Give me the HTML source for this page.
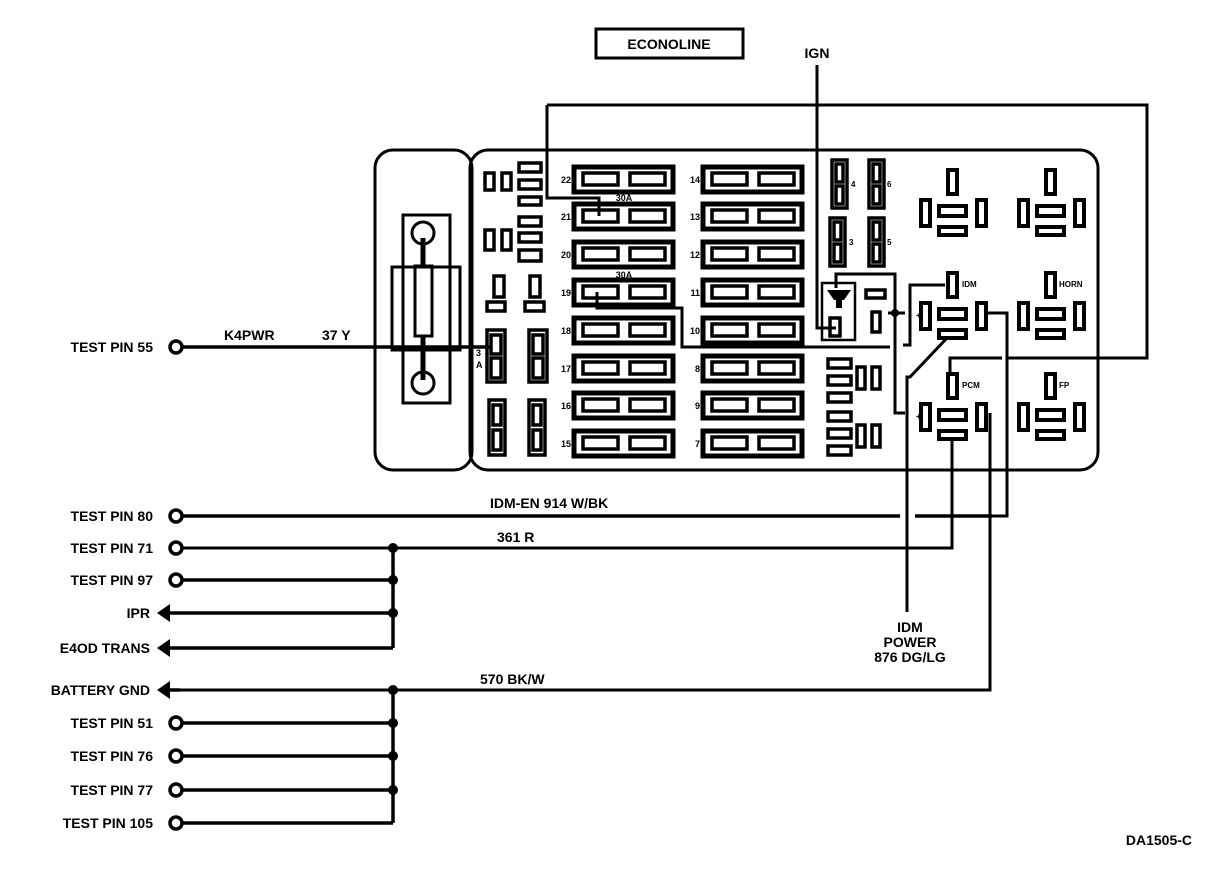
<!DOCTYPE html>
<html><head><meta charset="utf-8"><style>
html,body{margin:0;padding:0;background:#fff}
svg{display:block}
text{font-family:"Liberation Sans",sans-serif;font-weight:bold;fill:#000}
</style></head><body>
<svg width="1216" height="872" viewBox="0 0 1216 872" xmlns="http://www.w3.org/2000/svg">
<defs>
<g id="fuse">
 <rect x="0" y="-12" width="99" height="25" fill="none" stroke="#000" stroke-width="5"/>
 <rect x="9" y="-6" width="35" height="12" fill="none" stroke="#000" stroke-width="3.5"/>
 <rect x="56" y="-6" width="35" height="12" fill="none" stroke="#000" stroke-width="3.5"/>
</g>
<g id="relay">
 <rect x="-4" y="-42" width="9" height="24" fill="none" stroke="#000" stroke-width="4"/>
 <rect x="-31" y="-12" width="9" height="26" fill="none" stroke="#000" stroke-width="4"/>
 <rect x="25" y="-12" width="9" height="26" fill="none" stroke="#000" stroke-width="4"/>
 <rect x="-13" y="-6" width="27" height="10" fill="none" stroke="#000" stroke-width="4"/>
 <rect x="-13" y="15" width="27" height="8" fill="none" stroke="#000" stroke-width="4"/>
</g>
</defs>

<rect x="596" y="29" width="147" height="29" fill="none" stroke="#000" stroke-width="3"/>
<text x="669" y="49" font-size="14" text-anchor="middle">ECONOLINE</text>
<text x="817" y="58" font-size="14" text-anchor="middle">IGN</text>

<rect x="375" y="150" width="97" height="320" rx="18" fill="none" stroke="#000" stroke-width="3"/>
<rect x="470" y="150" width="628" height="320" rx="18" fill="none" stroke="#000" stroke-width="3"/>

<g fill="none" stroke="#000" stroke-width="3">
 <rect x="403" y="215" width="47" height="188"/>
 <rect x="392" y="267" width="68" height="83"/>
 <circle cx="423" cy="233" r="11"/>
 <circle cx="423" cy="383" r="11"/>
 <rect x="415" y="266" width="17" height="70"/>
 <line x1="423" y1="238" x2="423" y2="266" stroke-width="5"/>
 <line x1="423" y1="336" x2="423" y2="380" stroke-width="5"/>
</g>

<g fill="none" stroke="#000" stroke-width="3.5">
 <rect x="485" y="173" width="9" height="17"/><rect x="502" y="173" width="9" height="17"/>
 <rect x="519" y="163" width="22" height="9"/><rect x="519" y="180" width="22" height="9"/><rect x="519" y="197" width="22" height="8"/>
 <rect x="485" y="230" width="9" height="20"/><rect x="502" y="230" width="9" height="20"/>
 <rect x="519" y="217" width="22" height="9"/><rect x="519" y="233" width="22" height="9"/><rect x="519" y="250" width="22" height="11"/>
 <rect x="494" y="276" width="10" height="21"/><rect x="530" y="276" width="10" height="21"/>
 <rect x="487" y="302" width="18" height="9"/><rect x="525" y="302" width="19" height="9"/>
 <rect x="487" y="330" width="18" height="52"/><rect x="491" y="335" width="10" height="19"/><rect x="491" y="358" width="10" height="20"/>
 <rect x="529" y="330" width="18" height="52"/><rect x="533" y="335" width="10" height="19"/><rect x="533" y="358" width="10" height="20"/>
 <rect x="489" y="400" width="16" height="55"/><rect x="493" y="405" width="8" height="20"/><rect x="493" y="430" width="8" height="20"/>
 <rect x="529" y="400" width="16" height="55"/><rect x="533" y="405" width="8" height="20"/><rect x="533" y="430" width="8" height="20"/>
</g>
<text x="476" y="356" font-size="9">3</text><text x="476" y="368" font-size="9">A</text>

<g>
 <use href="#fuse" x="574" y="179"/><use href="#fuse" x="574" y="216"/><use href="#fuse" x="574" y="254"/><use href="#fuse" x="574" y="292"/>
 <use href="#fuse" x="574" y="330"/><use href="#fuse" x="574" y="368"/><use href="#fuse" x="574" y="405"/><use href="#fuse" x="574" y="443"/>
 <use href="#fuse" x="703" y="179"/><use href="#fuse" x="703" y="216"/><use href="#fuse" x="703" y="254"/><use href="#fuse" x="703" y="292"/>
 <use href="#fuse" x="703" y="330"/><use href="#fuse" x="703" y="368"/><use href="#fuse" x="703" y="405"/><use href="#fuse" x="703" y="443"/>
</g>
<g font-size="9" text-anchor="end">
 <text x="571" y="183">22</text><text x="571" y="220">21</text><text x="571" y="258">20</text><text x="571" y="296">19</text>
 <text x="571" y="334">18</text><text x="571" y="372">17</text><text x="571" y="409">16</text><text x="571" y="447">15</text>
 <text x="700" y="183">14</text><text x="700" y="220">13</text><text x="700" y="258">12</text><text x="700" y="296">11</text>
 <text x="700" y="334">10</text><text x="700" y="372">8</text><text x="700" y="409">9</text><text x="700" y="447">7</text>
</g>
<text x="624" y="201" font-size="9" text-anchor="middle">30A</text>
<text x="624" y="278" font-size="9" text-anchor="middle">30A</text>

<g fill="none" stroke="#000" stroke-width="3.5">
 <rect x="832" y="160" width="15" height="48"/><rect x="836" y="164" width="7" height="18"/><rect x="836" y="186" width="7" height="18"/>
 <rect x="869" y="160" width="15" height="48"/><rect x="873" y="164" width="7" height="18"/><rect x="873" y="186" width="7" height="18"/>
 <rect x="830" y="218" width="15" height="48"/><rect x="834" y="222" width="7" height="18"/><rect x="834" y="244" width="7" height="18"/>
 <rect x="869" y="218" width="15" height="48"/><rect x="873" y="222" width="7" height="18"/><rect x="873" y="244" width="7" height="18"/>
 <rect x="822" y="283" width="33" height="57" stroke-width="2.5"/>
 <rect x="866" y="290" width="19" height="8"/><rect x="872" y="312" width="8" height="20"/>
 <rect x="830" y="318" width="10" height="18"/>
 <rect x="828" y="359" width="23" height="9"/><rect x="828" y="376" width="23" height="9"/><rect x="828" y="393" width="23" height="9"/>
 <rect x="828" y="412" width="23" height="9"/><rect x="828" y="429" width="23" height="9"/><rect x="828" y="446" width="23" height="9"/>
 <rect x="857" y="367" width="8" height="22"/><rect x="872" y="367" width="8" height="22"/>
 <rect x="857" y="425" width="8" height="22"/><rect x="872" y="425" width="8" height="22"/>
</g>
<g font-size="8"><text x="851" y="187">4</text><text x="887" y="187">6</text><text x="849" y="245">3</text><text x="887" y="245">5</text></g>
<polygon points="827,290 851,290 844,300 834,300" fill="#000"/>
<rect x="836" y="300" width="6" height="8" fill="#000"/>

<use href="#relay" x="952" y="212"/><use href="#relay" x="1050" y="212"/>
<use href="#relay" x="952" y="315"/><use href="#relay" x="1050" y="315"/>
<use href="#relay" x="952" y="416"/><use href="#relay" x="1050" y="416"/>
<g font-size="8"><text x="962" y="287">IDM</text><text x="1059" y="287">HORN</text><text x="962" y="388">PCM</text><text x="1059" y="388">FP</text>
<text x="916" y="318">+</text><text x="916" y="419">+</text></g>

<g fill="none" stroke="#000" stroke-width="3">
 <polyline points="547,105 547,198 599,198 599,216"/>
 <polyline points="547,105 1147,105 1147,358 1008,358"/>
 <polyline points="1002,358 950,358 950,374"/>
 <polyline points="817,65 817,328 836,328"/>
 <polyline points="597,292 597,308 682,308 682,347 890,347"/>
 <polyline points="836,288 836,274 895,274 895,413 905,413"/>
 <polyline points="945,285 910,285 910,345 903,345"/>
 <polyline points="888,313 905,313"/>
 <polyline points="985,313 1007,313 1007,516 990,516"/>
 <polyline points="947,338 910,377 907,377 907,612"/>
 <polyline points="952,437 952,548 180,548"/>
 <polyline points="990,413 990,690 180,690"/>
</g>
<circle cx="895" cy="313" r="4" fill="#000"/>

<g stroke="#000" stroke-width="3.5" fill="none">
 <line x1="180" y1="347" x2="490" y2="347"/>
 <line x1="180" y1="516" x2="900" y2="516"/>
 <line x1="915" y1="516" x2="992" y2="516"/>
 <line x1="180" y1="580" x2="393" y2="580"/>
 <line x1="160" y1="613" x2="393" y2="613"/>
 <line x1="160" y1="648" x2="393" y2="648"/>
 <line x1="180" y1="723" x2="393" y2="723"/>
 <line x1="180" y1="756" x2="393" y2="756"/>
 <line x1="180" y1="790" x2="393" y2="790"/>
 <line x1="180" y1="823" x2="393" y2="823"/>
 <line x1="160" y1="690" x2="180" y2="690"/>
 <polyline points="393,548 393,648"/>
 <polyline points="393,690 393,823"/>
</g>
<g fill="#000">
 <circle cx="393" cy="548" r="5"/><circle cx="393" cy="580" r="5"/><circle cx="393" cy="613" r="5"/>
 <circle cx="393" cy="690" r="5"/><circle cx="393" cy="723" r="5"/><circle cx="393" cy="756" r="5"/><circle cx="393" cy="790" r="5"/>
 <polygon points="157,613 170,604 170,622"/>
 <polygon points="157,648 170,639 170,657"/>
 <polygon points="157,690 170,681 170,699"/>
</g>
<g fill="#fff" stroke="#000" stroke-width="3.5">
 <circle cx="176" cy="347" r="6"/>
 <circle cx="176" cy="516" r="6"/><circle cx="176" cy="548" r="6"/><circle cx="176" cy="580" r="6"/>
 <circle cx="176" cy="723" r="6"/><circle cx="176" cy="756" r="6"/><circle cx="176" cy="790" r="6"/><circle cx="176" cy="823" r="6"/>
</g>

<g font-size="14" text-anchor="end">
 <text x="153" y="352">TEST PIN 55</text>
 <text x="153" y="521">TEST PIN 80</text>
 <text x="153" y="553">TEST PIN 71</text>
 <text x="153" y="585">TEST PIN 97</text>
 <text x="150" y="618">IPR</text>
 <text x="150" y="653">E4OD TRANS</text>
 <text x="150" y="695">BATTERY GND</text>
 <text x="153" y="728">TEST PIN 51</text>
 <text x="153" y="761">TEST PIN 76</text>
 <text x="153" y="795">TEST PIN 77</text>
 <text x="153" y="828">TEST PIN 105</text>
</g>
<g font-size="14">
 <text x="224" y="340">K4PWR</text><text x="322" y="340">37 Y</text>
 <text x="490" y="508">IDM-EN 914 W/BK</text>
 <text x="497" y="542">361 R</text>
 <text x="480" y="684">570 BK/W</text>
 <text x="910" y="632" text-anchor="middle">IDM</text>
 <text x="910" y="647" text-anchor="middle">POWER</text>
 <text x="910" y="662" text-anchor="middle">876 DG/LG</text>
 <text x="1192" y="845" text-anchor="end">DA1505-C</text>
</g>
</svg>
</body></html>
